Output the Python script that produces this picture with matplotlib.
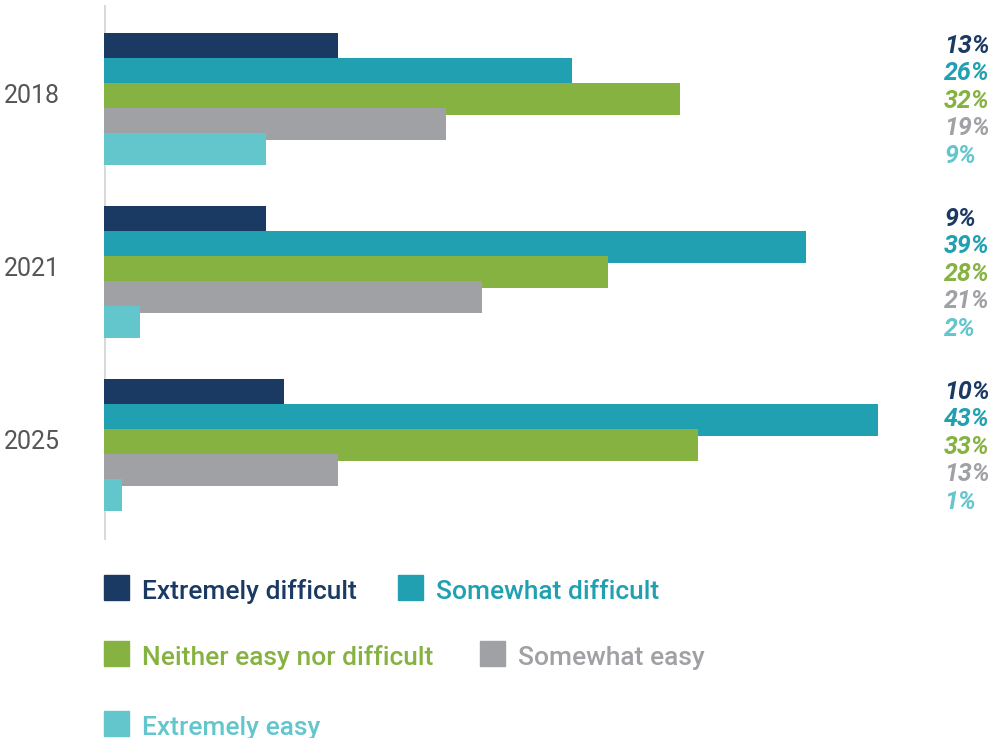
import matplotlib.pyplot as plt
from matplotlib.patches import Rectangle
from matplotlib.transforms import blended_transform_factory

plt.rcParams['font.family'] = ['Roboto', 'DejaVu Sans']

years = ['2018', '2021', '2025']
answers = ['Extremely difficult', 'Somewhat difficult', 'Neither easy nor difficult',
           'Somewhat easy', 'Extremely easy']
extremely_difficult = [13, 9, 10]
somewhat_difficult = [26, 39, 43]
neither = [32, 28, 33]
somewhat_easy = [19, 21, 13]
extremely_easy = [9, 2, 1]
colors = ['#1b3a63', '#20a0b0', '#86b242', '#a0a1a5', '#63c6cc']

series = [extremely_difficult, somewhat_difficult, neither, somewhat_easy, extremely_easy]

W, H = 988, 738
fig = plt.figure(figsize=(W / 100, H / 100), dpi=100)


def fx(px):
    return px / W


def fy(py):
    return 1 - py / H


# axes spans the light vertical line; y units are pixels from the top of the figure
ax_top, ax_bot = 5, 540
ax = fig.add_axes([fx(104), fy(ax_bot), fx(968) - fx(104), fy(ax_top) - fy(ax_bot)])
ax.set_xlim(0, 48)
ax.set_ylim(ax_bot, ax_top)
ax.axis('off')
ax.axvline(0, color='#d9d9d9', lw=2.2, zorder=0)

group_step = 173
bar_step = 25
bar_h = 32
first = 49

for g, year in enumerate(years):
    for i, vals in enumerate(series):
        yc = first + g * group_step + i * bar_step
        ax.barh(yc, vals[g], height=bar_h, color=colors[i], zorder=2 + i)
    gc = first + g * group_step + 2 * bar_step
    ax.text(-44 / 18, gc - 3, year, ha='right', va='center', fontsize=18,
            color='#555555')

# value labels in a column on the right
tr = blended_transform_factory(fig.transFigure, ax.transData)
for g in range(len(years)):
    for i, vals in enumerate(series):
        yb = 44 + g * 173 + i * 27.5 + 9
        ax.text(fx(944), yb, f'{vals[g]}%', transform=tr, ha='left', va='baseline',
                fontsize=18, fontweight='bold', fontstyle='italic', color=colors[i])

# legend laid out in rows
legend_pos = [(104, 587), (398, 587), (104, 653), (480, 653), (104, 723)]
for (x, y), name, c in zip(legend_pos, answers, colors):
    fig.patches.append(Rectangle((fx(x), fy(y + 12.5)), fx(25), 25 / H,
                                 transform=fig.transFigure, color=c))
    fig.text(fx(x + 38), fy(y + 12), name, ha='left', va='baseline', fontsize=19,
             fontweight='medium', color=c)

fig.savefig('out.png', dpi=100)
